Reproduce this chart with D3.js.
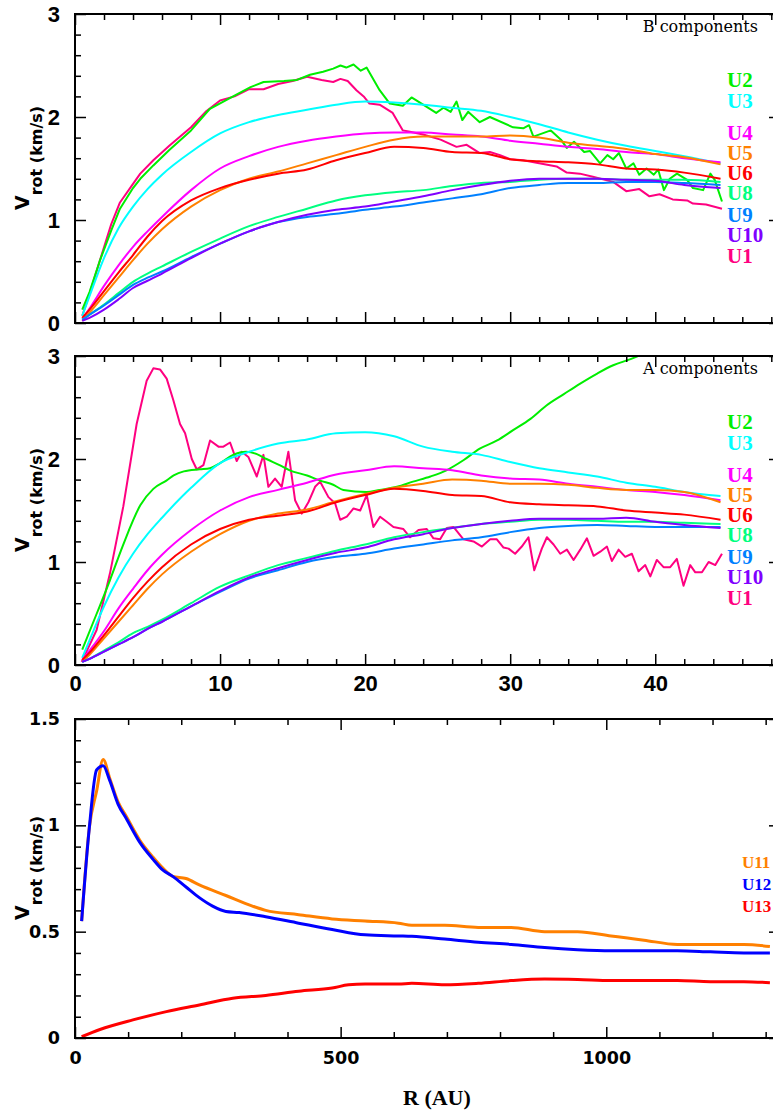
<!DOCTYPE html>
<html>
<head>
<meta charset="utf-8">
<script src="https://cdn.jsdelivr.net/npm/d3@7"></script>
<style>
  body { margin: 0; background: #fff; }
</style>
</head>
<body>
<svg width="773" height="1112"></svg>
<script>
// ---- data ----
// common radius grid (AU) for the smooth curves of the top two panels
const RB = [0.5, 1, 2, 3, 4, 5, 6, 8, 10, 12, 14, 16, 18, 20, 22, 24, 26, 28, 30, 32, 34, 36, 38, 40, 42, 44.5];

// B components
const bU3 = [0.07,0.26,0.63,0.92,1.13,1.30,1.44,1.66,1.84,1.95,2.02,2.07,2.12,2.15,2.14,2.12,2.09,2.06,2.00,1.93,1.85,1.78,1.72,1.67,1.62,1.55];
const bU4 = [0.04,0.14,0.36,0.56,0.74,0.89,1.03,1.29,1.50,1.62,1.71,1.77,1.81,1.84,1.85,1.85,1.83,1.81,1.77,1.74,1.71,1.69,1.66,1.64,1.60,1.56];
const bU5 = [0.02,0.10,0.27,0.44,0.61,0.77,0.91,1.13,1.29,1.40,1.47,1.55,1.63,1.71,1.78,1.81,1.81,1.81,1.82,1.80,1.75,1.72,1.69,1.64,1.61,1.54];
const bU6 = [0.05,0.13,0.31,0.49,0.66,0.84,0.99,1.19,1.31,1.39,1.45,1.49,1.58,1.65,1.71,1.70,1.66,1.65,1.59,1.57,1.56,1.54,1.50,1.49,1.46,1.40];
const bU8 = [0.03,0.08,0.18,0.29,0.40,0.48,0.55,0.69,0.82,0.94,1.03,1.11,1.19,1.24,1.27,1.29,1.33,1.36,1.37,1.39,1.40,1.40,1.39,1.39,1.39,1.37];
const bU9 = [0.03,0.08,0.17,0.27,0.37,0.44,0.50,0.64,0.77,0.89,0.98,1.03,1.06,1.10,1.13,1.17,1.21,1.25,1.31,1.34,1.36,1.36,1.37,1.37,1.36,1.34];
const bU10 = [0.02,0.05,0.13,0.23,0.34,0.41,0.48,0.63,0.77,0.89,0.98,1.05,1.10,1.13,1.18,1.23,1.29,1.34,1.38,1.40,1.40,1.40,1.39,1.38,1.34,1.31];
const bU1 = [[0.5,0.07],[1,0.28],[1.7,0.6],[2.5,0.96],[3.1,1.17],[4,1.35],[4.5,1.45],[5.4,1.58],[6.5,1.72],[8,1.9],[9,2.05],[10,2.16],[11,2.2],[12,2.27],[13,2.27],[14,2.32],[15,2.35],[16,2.39],[17,2.36],[17.8,2.34],[18.3,2.37],[18.8,2.35],[19.4,2.26],[19.9,2.2],[20.3,2.13],[21,2.12],[21.9,2.04],[22.6,1.87],[23,1.86],[24,1.83],[25.2,1.78],[26.3,1.71],[27,1.73],[27.9,1.65],[28.6,1.66],[29.3,1.63],[30,1.59],[30.9,1.58],[32,1.55],[33.2,1.52],[33.9,1.46],[34.8,1.45],[35.7,1.42],[37.1,1.37],[38,1.28],[38.9,1.30],[39.6,1.23],[40.3,1.25],[41.2,1.20],[42.2,1.19],[42.6,1.16],[43.5,1.15],[44.6,1.11]];
const bU2 = [[0.5,0.13],[1,0.3],[1.7,0.6],[2.5,0.9],[3.1,1.11],[4,1.31],[4.5,1.4],[5.4,1.53],[6.5,1.68],[8,1.87],[9.3,2.08],[10.9,2.2],[12.1,2.29],[13,2.34],[14.4,2.35],[15.3,2.36],[16.2,2.41],[17.1,2.44],[17.8,2.47],[18.3,2.5],[18.7,2.48],[19.2,2.51],[19.7,2.45],[20.1,2.48],[21,2.26],[21.7,2.13],[22.6,2.11],[23.2,2.19],[24,2.12],[24.9,2.04],[25.4,2.09],[25.9,2.05],[26.3,2.15],[26.7,1.97],[27.1,2.05],[27.9,1.95],[28.6,2.0],[30.2,1.9],[30.9,1.89],[31.3,1.92],[31.6,1.81],[32.8,1.87],[33.5,1.78],[33.9,1.70],[34.4,1.76],[35.1,1.66],[35.5,1.67],[36.2,1.55],[36.7,1.63],[37.1,1.59],[37.5,1.65],[38,1.50],[38.5,1.55],[38.9,1.44],[39.4,1.50],[39.9,1.44],[40.2,1.49],[40.6,1.29],[41,1.40],[41.5,1.45],[42.2,1.39],[42.6,1.31],[43.3,1.29],[43.8,1.45],[44.1,1.39],[44.6,1.18]];

// A components
const aU3 = [0.07,0.24,0.57,0.85,1.08,1.27,1.43,1.72,1.96,2.07,2.15,2.19,2.25,2.26,2.22,2.12,2.07,2.04,1.97,1.91,1.87,1.83,1.77,1.73,1.68,1.64];
const aU4 = [0.05,0.14,0.33,0.55,0.74,0.92,1.07,1.31,1.50,1.63,1.70,1.77,1.85,1.89,1.93,1.91,1.89,1.84,1.81,1.80,1.76,1.73,1.70,1.68,1.65,1.60];
const aU5 = [0.03,0.10,0.26,0.42,0.58,0.74,0.88,1.10,1.27,1.40,1.47,1.51,1.59,1.66,1.72,1.76,1.80,1.79,1.76,1.76,1.75,1.72,1.70,1.70,1.68,1.58];
const aU6 = [0.05,0.12,0.29,0.47,0.65,0.81,0.95,1.17,1.32,1.41,1.45,1.49,1.58,1.65,1.71,1.69,1.65,1.64,1.58,1.56,1.55,1.54,1.50,1.48,1.46,1.41];
const aU8 = [0.03,0.06,0.14,0.22,0.31,0.37,0.44,0.60,0.76,0.87,0.97,1.04,1.11,1.17,1.24,1.29,1.33,1.37,1.39,1.41,1.41,1.40,1.39,1.39,1.38,1.37];
const aU9 = [0.03,0.06,0.13,0.20,0.27,0.35,0.42,0.57,0.71,0.84,0.92,1.00,1.05,1.08,1.13,1.17,1.21,1.24,1.29,1.33,1.35,1.36,1.35,1.34,1.34,1.34];
const aU10 = [0.03,0.06,0.13,0.20,0.27,0.35,0.42,0.57,0.72,0.85,0.94,1.02,1.09,1.14,1.22,1.27,1.33,1.37,1.40,1.42,1.42,1.42,1.43,1.39,1.36,1.33];
const aU1 = [[0.46,0.03],[1.49,0.34],[2.41,0.89],[3.33,1.54],[4.25,2.34],[4.94,2.76],[5.4,2.88],[5.86,2.87],[6.32,2.78],[6.78,2.57],[7.24,2.34],[7.59,2.25],[8.05,2.0],[8.39,1.9],[8.85,1.94],[9.31,2.18],[9.89,2.12],[10.23,2.12],[10.69,2.16],[11.15,1.98],[11.49,2.07],[11.95,2.02],[12.53,1.83],[12.99,2.04],[13.33,1.73],[13.79,1.81],[14.25,1.73],[14.71,2.07],[15.17,1.6],[15.63,1.47],[16.09,1.58],[16.55,1.73],[16.9,1.78],[17.47,1.63],[17.93,1.57],[18.28,1.41],[18.74,1.44],[19.2,1.52],[19.66,1.5],[20.11,1.65],[20.57,1.34],[21.03,1.44],[21.49,1.39],[21.95,1.34],[22.64,1.32],[23.1,1.24],[23.68,1.31],[24.25,1.32],[24.71,1.23],[25.17,1.22],[25.63,1.33],[26.09,1.34],[26.78,1.22],[27.47,1.2],[28.05,1.15],[28.62,1.22],[29.08,1.22],[29.54,1.14],[29.89,1.13],[30.34,1.08],[30.8,1.15],[31.26,1.24],[31.66,0.92],[32.18,1.13],[32.53,1.24],[32.99,1.17],[33.45,1.08],[33.91,1.12],[34.37,1.02],[34.83,1.12],[35.29,1.23],[35.75,1.06],[36.21,1.1],[36.67,1.15],[37.01,1.01],[37.47,1.12],[37.93,1.05],[38.39,1.08],[38.85,0.91],[39.31,0.97],[39.66,0.86],[40.11,1.02],[40.57,0.95],[41.03,0.95],[41.49,1.03],[41.95,0.77],[42.41,0.97],[42.76,0.9],[43.22,0.9],[43.68,1.0],[44.14,0.97],[44.6,1.08]];
const aU2 = [[0.5,0.15],[1.5,0.5],[2.4,0.82],[3.3,1.16],[4.5,1.55],[5.4,1.71],[6.3,1.79],[6.8,1.84],[7.5,1.88],[8.6,1.9],[9.3,1.91],[10,1.96],[10.9,2.04],[11.8,2.07],[12.5,2.05],[13.2,2.0],[14.1,1.94],[14.8,1.89],[16,1.84],[16.9,1.79],[17.8,1.75],[18.5,1.70],[20.1,1.68],[21,1.70],[22.2,1.73],[23.3,1.78],[24.5,1.83],[25.6,1.89],[26.8,1.99],[27.9,2.10],[29.1,2.18],[30.2,2.28],[31.4,2.39],[32.5,2.52],[33.7,2.63],[34.8,2.73],[36,2.83],[37.1,2.91],[38.3,2.97],[39.5,3.04],[40.5,3.1]];

// large-scale curves (R in AU)
const cU11 = [[12.5,0.55],[27,0.99],[40.6,1.16],[53,1.31],[65.5,1.22],[81,1.11],[97,1.04],[122,0.93],[147,0.85],[165,0.80],[184,0.76],[209,0.75],[234,0.72],[284,0.67],[334,0.62],[359,0.60],[421,0.58],[484,0.56],[546,0.55],[609,0.54],[634,0.53],[696,0.53],[759,0.52],[821,0.52],[884,0.50],[946,0.50],[1009,0.48],[1040,0.47],[1071,0.46],[1134,0.44],[1171,0.44],[1196,0.44],[1240,0.44],[1259,0.44],[1308,0.43]];
const cU12 = [[12.5,0.55],[27,0.99],[40.6,1.26],[53,1.28],[65.5,1.21],[81,1.10],[97,1.03],[122,0.92],[147,0.84],[165,0.79],[184,0.76],[209,0.71],[234,0.66],[259,0.62],[284,0.595],[309,0.59],[359,0.57],[421,0.54],[484,0.51],[546,0.485],[609,0.48],[634,0.478],[696,0.465],[759,0.45],[821,0.44],[884,0.425],[946,0.415],[1009,0.41],[1071,0.41],[1134,0.41],[1196,0.405],[1259,0.40],[1308,0.40]];
const cU13 = [[12.5,0.006],[47,0.04],[109,0.085],[172,0.124],[234,0.155],[297,0.187],[359,0.20],[421,0.22],[484,0.235],[515,0.25],[546,0.254],[609,0.254],[634,0.257],[696,0.25],[759,0.257],[821,0.27],[884,0.277],[946,0.275],[1009,0.27],[1071,0.27],[1134,0.27],[1196,0.265],[1259,0.265],[1308,0.26]];

// label order on the right hand side
const labelsAB = ["U2", "U3", "U4", "U5", "U6", "U8", "U9", "U10", "U1"];
const labelsC = ["U11", "U12", "U13"];

const colors = {
  U1: "#ff0080", U2: "#00ee00", U3: "#00ffff", U4: "#ff00ff", U5: "#ff8000",
  U6: "#ff0000", U8: "#00ff80", U9: "#0080ff", U10: "#8000ff",
  U11: "#ff8000", U12: "#0000ff", U13: "#ff0000"
};

const grid = vals => d3.zip(RB, vals);

// ---- layout ----
const X0 = 75, X1 = 780;
const labelOffsets = [87, 108, 140, 160, 180, 200, 222, 242, 263]; // baselines, panel 1

const panels = [
  {
    top: 14, bottom: 323, xDomain: [0, 48.6], yDomain: [0, 3],
    xMajor: [0, 10, 20, 30, 40], xMinorStep: 2, xMax: 48,
    yMajor: [0, 1, 2, 3], yMinorStep: 0.2, xLabels: false,
    title: "B components", width: 2,
    series: [
      ["U1", bU1, false], ["U2", bU2, false], ["U3", grid(bU3), true], ["U4", grid(bU4), true], ["U5", grid(bU5), true],
      ["U6", grid(bU6), true], ["U8", grid(bU8), true], ["U9", grid(bU9), true], ["U10", grid(bU10), true]
    ]
  },
  {
    top: 356, bottom: 665, xDomain: [0, 48.6], yDomain: [0, 3],
    xMajor: [0, 10, 20, 30, 40], xMinorStep: 2, xMax: 48,
    yMajor: [0, 1, 2, 3], yMinorStep: 0.2, xLabels: true,
    title: "A components", width: 2,
    series: [
      ["U1", aU1, false], ["U2", aU2, true], ["U3", grid(aU3), true], ["U4", grid(aU4), true], ["U5", grid(aU5), true],
      ["U6", grid(aU6), true], ["U8", grid(aU8), true], ["U9", grid(aU9), true], ["U10", grid(aU10), true]
    ]
  },
  {
    top: 719, bottom: 1038, xDomain: [0, 1327], yDomain: [0, 1.5],
    xMajor: [0, 500, 1000], xMinorStep: 100, xMax: 1300,
    yMajor: [0, 0.5, 1, 1.5], yMinorStep: 0.1, xLabels: true,
    title: null, width: 3,
    series: [["U11", cU11, true], ["U12", cU12, true], ["U13", cU13, true]]
  }
];

const svg = d3.select("svg");

panels.forEach((p, i) => {
  const x = d3.scaleLinear().domain(p.xDomain).range([X0, X1]);
  const y = d3.scaleLinear().domain(p.yDomain).range([p.bottom, p.top]);
  const big = i < 2;
  const numFont = big ? "Liberation Sans" : "DejaVu Sans";
  const numSize = big ? 22 : 17.5;

  const xMinor = d3.range(0, p.xMax + 1e-9, p.xMinorStep).filter(v => !p.xMajor.some(m => Math.abs(m - v) < 1e-9));
  const yMinor = d3.range(0, p.yDomain[1] + 1e-9, p.yMinorStep).filter(v => !p.yMajor.some(m => Math.abs(m - v) < 1e-9));

  const styleAxis = g => {
    g.select(".domain").remove();
    g.selectAll(".tick line").attr("stroke", "#000").attr("stroke-width", 1.5);
    g.selectAll("text").attr("font-family", numFont).attr("font-weight", "bold")
      .attr("font-size", numSize).attr("fill", "#000");
  };

  // clip for the curves
  svg.append("clipPath").attr("id", "clip" + i)
    .append("rect").attr("x", X0).attr("y", p.top).attr("width", X1 - X0).attr("height", p.bottom - p.top);

  const lines = svg.append("g").attr("clip-path", `url(#clip${i})`);
  p.series.forEach(([name, pts, smooth]) => {
    const line = d3.line().x(d => x(d[0])).y(d => y(d[1]))
      .curve(smooth ? d3.curveMonotoneX : d3.curveLinear);
    lines.append("path")
      .datum(pts)
      .attr("fill", "none")
      .attr("stroke", colors[name])
      .attr("stroke-width", p.width)
      .attr("stroke-linejoin", "round")
      .attr("d", line);
  });

  // ticks on all four sides, pointing inward
  styleAxis(svg.append("g").attr("transform", `translate(0,${p.bottom})`)
    .call(d3.axisBottom(x).tickValues(xMinor).tickSize(-6).tickFormat("")));
  styleAxis(svg.append("g").attr("transform", `translate(0,${p.bottom})`)
    .call(d3.axisBottom(x).tickValues(p.xMajor).tickSize(-11).tickPadding(big ? 10 : 14)
      .tickFormat(p.xLabels ? d3.format("d") : "")));

  styleAxis(svg.append("g").attr("transform", `translate(0,${p.top})`)
    .call(d3.axisTop(x).tickValues(xMinor).tickSize(-6).tickFormat("")));
  styleAxis(svg.append("g").attr("transform", `translate(0,${p.top})`)
    .call(d3.axisTop(x).tickValues(p.xMajor).tickSize(-11).tickFormat("")));

  styleAxis(svg.append("g").attr("transform", `translate(${X0},0)`)
    .call(d3.axisLeft(y).tickValues(yMinor).tickSize(-6).tickFormat("")));
  styleAxis(svg.append("g").attr("transform", `translate(${X0},0)`)
    .call(d3.axisLeft(y).tickValues(p.yMajor).tickSize(-11).tickPadding(15).tickFormat(d => String(d))));

  styleAxis(svg.append("g").attr("transform", `translate(${X1},0)`)
    .call(d3.axisRight(y).tickValues(yMinor).tickSize(-6).tickFormat("")));
  styleAxis(svg.append("g").attr("transform", `translate(${X1},0)`)
    .call(d3.axisRight(y).tickValues(p.yMajor).tickSize(-11).tickFormat("")));

  // frame
  svg.append("rect")
    .attr("x", X0).attr("y", p.top).attr("width", X1 - X0).attr("height", p.bottom - p.top)
    .attr("fill", "none").attr("stroke", "#000").attr("stroke-width", 2);

  // y title
  const yt = svg.append("text")
    .attr("transform", `translate(29,${big ? p.bottom - 113 : p.bottom - 118}) rotate(-90)`)
    .attr("font-family", "DejaVu Sans").attr("font-weight", "bold").attr("fill", "#000");
  yt.append("tspan").attr("font-size", 19).text("V");
  yt.append("tspan").attr("font-size", 16).attr("dy", 13).text("rot");
  yt.append("tspan").attr("font-size", 16).text(" (km/s)");

  // panel title
  if (p.title) {
    svg.append("text")
      .attr("x", 758).attr("y", p.top + 18)
      .attr("text-anchor", "end")
      .attr("font-family", "DejaVu Serif").attr("font-size", 16).attr("fill", "#000")
      .text(p.title);
  }

  // right-hand labels
  if (big) {
    labelsAB.forEach((name, k) => {
      svg.append("text")
        .attr("x", 727).attr("y", labelOffsets[k] + (p.top - 14))
        .attr("font-family", "Liberation Serif").attr("font-weight", "bold").attr("font-size", 21)
        .attr("fill", colors[name]).text(name);
    });
  } else {
    labelsC.forEach((name, k) => {
      svg.append("text")
        .attr("x", 742).attr("y", 868 + 22 * k)
        .attr("font-family", "Liberation Serif").attr("font-weight", "bold").attr("font-size", 17)
        .attr("fill", colors[name]).text(name);
    });
  }
});

// x title
svg.append("text")
  .attr("x", 403).attr("y", 1105)
  .attr("font-family", "Liberation Serif").attr("font-weight", "bold").attr("font-size", 22)
  .attr("fill", "#000").text("R (AU)");
</script>
</body>
</html>
